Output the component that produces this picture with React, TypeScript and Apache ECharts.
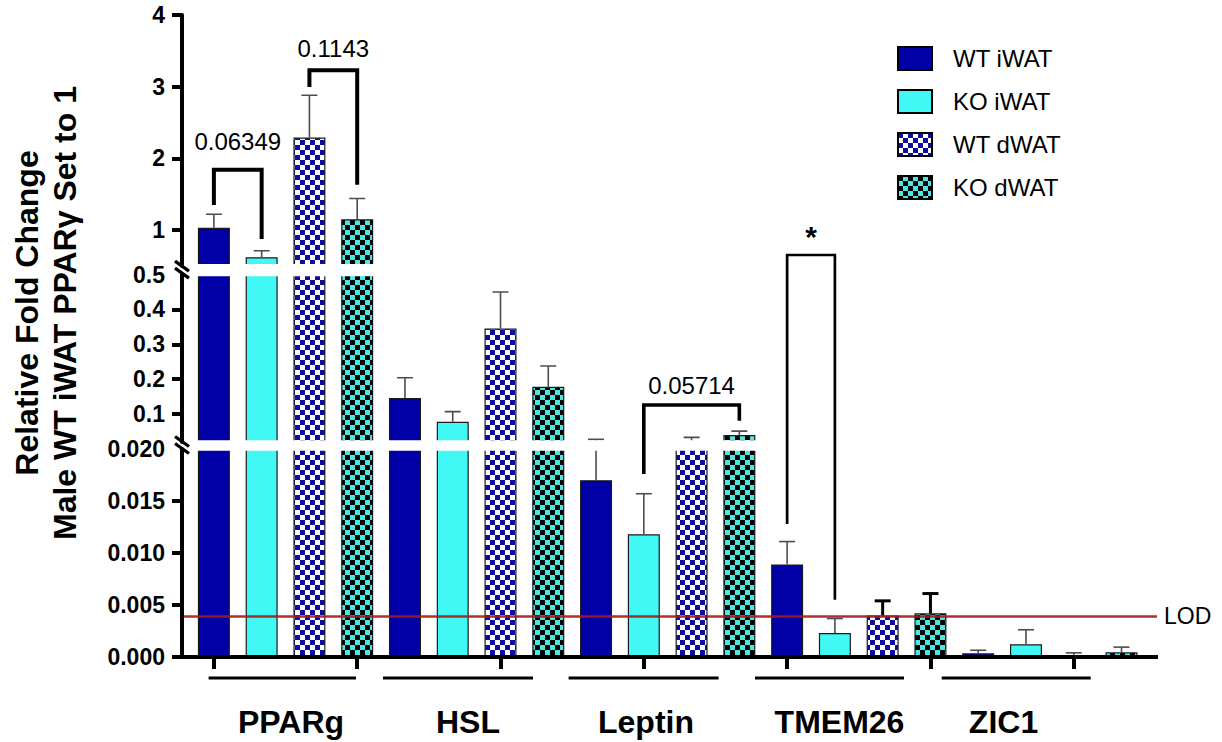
import React, { useEffect, useRef } from "react";
import * as echarts from "echarts";

// ---------------- data ----------------
const genes = ["PPARg", "HSL", "Leptin", "TMEM26", "ZIC1"];
const groups = ["WT iWAT", "KO iWAT", "WT dWAT", "KO dWAT"];

const wtIWAT = [1.03, 0.146, 0.017, 0.0089, 0.00035];
const koIWAT = [0.62, 0.078, 0.0118, 0.0023, 0.00122];
const wtDWAT = [2.29, 0.345, 0.0201, 0.004, 0.0002];
const koDWAT = [1.15, 0.178, 0.0398, 0.0042, 0.00045];

const wtIWATsd = [0.19, 0.058, 0.0105, 0.0022, 0.0003];
const koIWATsd = [0.09, 0.029, 0.0039, 0.0014, 0.0014];
const wtDWATsd = [0.59, 0.105, 0.0131, 0.0014, 0.0002];
const koDWATsd = [0.29, 0.06, 0.0114, 0.0019, 0.0005];

const heavyErrors = ["TMEM26|WT dWAT", "TMEM26|KO dWAT"];

const LOD = 0.0039;

// broken y axis: three segments (top, middle, bottom)
const segMin = [0.5, 0.02, 0];
const segMax = [4, 0.5, 0.02];
const segTicks = [
  [1, 2, 3, 4],
  [0.1, 0.2, 0.3, 0.4],
  [0, 0.005, 0.01, 0.015],
];
const segLabels = [
  [1, 2, 3, 4],
  [0.1, 0.2, 0.3, 0.4, 0.5],
  [0, 0.005, 0.01, 0.015, 0.02],
];
const segDecimals = [0, 1, 3];

// comparisons: gene index, group a, group b, bracket level, leg ends, label level
const comparisons = [
  { p: "0.06349", gene: 0, a: 0, b: 1, level: 1.84, endA: 1.35, endB: 0.874, labelAt: 2.23 },
  { p: "0.1143", gene: 0, a: 2, b: 3, level: 3.23, endA: 2.995, endB: 1.63, labelAt: 3.53 },
  { p: "0.05714", gene: 2, a: 1, b: 3, level: 0.126, endA: 0.0176, endB: 0.081, labelAt: 0.183 },
  { p: "*", gene: 3, a: 0, b: 1, level: 0.651, endA: 0.0128, endB: 0.0055, labelAt: 0.906 },
];

const yTitleLines = ["Relative Fold Change", "Male WT iWAT PPARγ Set to 1"];

// ---------------- layout / style ----------------
const FONT = "'Liberation Sans', Arial, Helvetica, sans-serif";
const GRID_LEFT = 190;
const GRID_W = 955.4;
const GRID_TOPS = [15, 274.5, 449];
const GRID_HEIGHTS = [250.8, 167.5, 208];
const AXIS_X = 182;
const XAXIS_RIGHT = 1158;
const GENE_LABEL_X = [291, 468, 646, 839.5, 1003.5];
const GENE_LABEL_Y = 722;
const UNDERLINES = [
  [208.6, 356],
  [383, 533],
  [568.6, 718.6],
  [755, 904],
  [941.7, 1090.7],
];
const UNDERLINE_Y = 678;
const BRACKET_WIDTHS = [4, 4, 3.6, 2.7];
const Y_TITLE_X = [27, 65];
const Y_TITLE_Y = 313;

function checker(bg: string, fg: string, size: number) {
  const c = document.createElement("canvas");
  c.width = size * 2;
  c.height = size * 2;
  const ctx = c.getContext("2d")!;
  ctx.fillStyle = bg;
  ctx.fillRect(0, 0, size * 2, size * 2);
  ctx.fillStyle = fg;
  ctx.fillRect(0, 0, size, size);
  ctx.fillRect(size, size, size, size);
  return { image: c, repeat: "repeat", imageWidth: size * 2, imageHeight: size * 2 } as any;
}

export default function App() {
  const ref = useRef<HTMLDivElement>(null);

  useEffect(() => {
    const chart = echarts.init(ref.current!, null, { renderer: "svg" });

    const values = [wtIWAT, koIWAT, wtDWAT, koDWAT];
    const sds = [wtIWATsd, koIWATsd, wtDWATsd, koDWATsd];
    const slots: string[] = [];
    genes.forEach((g) => groups.forEach((k) => slots.push(`${g}|${k}`)));
    const slotOf = (gene: number, grp: number) => gene * groups.length + grp;

    const fills = [
      "#0000a6",
      "#42f8f4",
      checker("#ffffff", "#0c0ca0", 5),
      checker("#4ae8e2", "#000000", 5),
    ];

    const grids: any[] = [];
    const xAxes: any[] = [];
    const yAxes: any[] = [];
    const series: any[] = [];

    for (let s = 0; s < 3; s++) {
      grids.push({ left: GRID_LEFT, width: GRID_W, top: GRID_TOPS[s], height: GRID_HEIGHTS[s] });
      xAxes.push({
        type: "category",
        gridIndex: s,
        data: slots,
        axisLine: { show: false },
        axisTick: {
          show: s === 2,
          alignWithLabel: true,
          length: 12,
          lineStyle: { color: "#000", width: 4 },
        },
        axisLabel: { show: false },
        splitLine: { show: false },
      });
      const dec = segDecimals[s];
      yAxes.push({
        type: "value",
        gridIndex: s,
        min: segMin[s],
        max: segMax[s],
        offset: GRID_LEFT - AXIS_X,
        axisLine: { show: true, lineStyle: { color: "#000", width: 4 } },
        axisTick: {
          show: true,
          length: 10,
          customValues: segTicks[s],
          lineStyle: { color: "#000", width: 4 },
        },
        axisLabel: {
          show: true,
          customValues: segLabels[s],
          formatter: (v: number) => v.toFixed(dec),
          fontSize: 23,
          fontWeight: "bold",
          fontFamily: FONT,
          color: "#000",
          margin: 17,
        },
        splitLine: { show: false },
      });

      groups.forEach((name, k) => {
        const data = slots.map(() => "-" as any);
        genes.forEach((_, gi) => {
          data[slotOf(gi, k)] = values[k][gi];
        });
        series.push({
          type: "bar",
          name,
          xAxisIndex: s,
          yAxisIndex: s,
          data,
          barWidth: 32,
          barGap: "-100%",
          clip: true,
          z: 2,
          itemStyle: { color: fills[k], borderColor: "#1a1a1a", borderWidth: 1.2 },
          emphasis: { disabled: true },
        });
      });

      const errData: any[] = [];
      groups.forEach((grpName, k) => {
        genes.forEach((g, gi) => {
          const heavy = heavyErrors.includes(`${g}|${grpName}`) ? 1 : 0;
          errData.push([slotOf(gi, k), values[k][gi], values[k][gi] + sds[k][gi], heavy]);
        });
      });
      series.push({
        type: "custom",
        xAxisIndex: s,
        yAxisIndex: s,
        clip: true,
        z: 3,
        silent: true,
        encode: { x: 0, y: [1, 2] },
        data: errData,
        renderItem: (params: any, api: any) => {
          const slot = api.value(0);
          const p0 = api.coord([slot, api.value(1)]);
          const p1 = api.coord([slot, api.value(2)]);
          const heavy = api.value(3) === 1;
          const style = { stroke: heavy ? "#000" : "#4d4d4d", lineWidth: heavy ? 3 : 1.6 };
          const hw = 8;
          return {
            type: "group",
            children: [
              { type: "line", shape: { x1: p0[0], y1: p0[1], x2: p1[0], y2: p1[1] }, style },
              { type: "line", shape: { x1: p1[0] - hw, y1: p1[1], x2: p1[0] + hw, y2: p1[1] }, style },
            ],
          };
        },
      });
    }

    const option: any = {
      animation: false,
      backgroundColor: "#fff",
      grid: grids,
      xAxis: xAxes,
      yAxis: yAxes,
      legend: {
        data: groups,
        orient: "vertical",
        left: 897,
        top: 46,
        padding: 0,
        itemWidth: 34,
        itemHeight: 23,
        itemGap: 18,
        icon: "rect",
        selectedMode: false,
        itemStyle: { borderColor: "#000", borderWidth: 2 },
        textStyle: { fontSize: 24, color: "#000", fontFamily: FONT, padding: [0, 0, 0, 16] },
      },
      series,
    };
    chart.setOption(option);

    // ---------- annotations computed through the chart's scales ----------
    const toPx = (slot: number, v: number) => {
      const gi = v >= segMin[0] ? 0 : v >= segMin[1] ? 1 : 2;
      return chart.convertToPixel({ gridIndex: gi }, [slot, v]) as number[];
    };
    const yOf = (gi: number, v: number) =>
      (chart.convertToPixel({ gridIndex: gi }, [0, v]) as number[])[1];

    const graphics: any[] = [];
    const txt = (x: number, y: number, text: string, size: number, weight: string, extra: any = {}) => ({
      type: "text",
      x,
      y,
      z: 120,
      ...extra,
      style: {
        text,
        fill: "#000",
        fontSize: size,
        fontWeight: weight,
        fontFamily: FONT,
        align: "center",
        verticalAlign: "middle",
        textAlign: "center",
        textVerticalAlign: "middle",
      },
    });

    // gaps of the broken axis
    const gapTop1 = yOf(0, segMin[0]);
    const gapBot1 = yOf(1, segMax[1]);
    const gapTop2 = yOf(1, segMin[1]);
    const gapBot2 = yOf(2, segMax[2]);
    [[gapTop1, gapBot1], [gapTop2, gapBot2]].forEach(([a, b]) => {
      graphics.push({
        type: "rect",
        z: 90,
        shape: { x: AXIS_X + 4, y: a - 1.8, width: XAXIS_RIGHT - AXIS_X, height: b - a + 3.6 },
        style: { fill: "#fff" },
      });
      const yc = (a + b) / 2;
      graphics.push({
        type: "line",
        z: 110,
        shape: { x1: AXIS_X - 7, y1: yc - 9, x2: AXIS_X + 7, y2: yc + 1 },
        style: { stroke: "#000", lineWidth: 3.2 },
      });
      graphics.push({
        type: "line",
        z: 110,
        shape: { x1: AXIS_X - 7, y1: yc - 2, x2: AXIS_X + 7, y2: yc + 8 },
        style: { stroke: "#000", lineWidth: 3.2 },
      });
    });

    // x axis line
    const y0 = yOf(2, 0);
    graphics.push({
      type: "line",
      z: 110,
      shape: { x1: AXIS_X - 2, y1: y0, x2: XAXIS_RIGHT, y2: y0 },
      style: { stroke: "#000", lineWidth: 4 },
    });

    // LOD line
    const yL = yOf(2, LOD);
    graphics.push({
      type: "line",
      z: 95,
      shape: { x1: AXIS_X + 2, y1: yL, x2: XAXIS_RIGHT - 1, y2: yL },
      style: { stroke: "#a81818", lineWidth: 2.4, opacity: 0.9 },
    });
    graphics.push({
      type: "text",
      x: XAXIS_RIGHT + 6,
      y: yL,
      z: 120,
      style: {
        text: "LOD",
        fill: "#000",
        fontSize: 23,
        fontFamily: FONT,
        align: "left",
        verticalAlign: "middle",
        textAlign: "left",
        textVerticalAlign: "middle",
      },
    });

    // gene underlines and labels
    genes.forEach((g, i) => {
      graphics.push({
        type: "line",
        z: 110,
        shape: { x1: UNDERLINES[i][0], y1: UNDERLINE_Y, x2: UNDERLINES[i][1], y2: UNDERLINE_Y },
        style: { stroke: "#000", lineWidth: 3 },
      });
      graphics.push(txt(GENE_LABEL_X[i], GENE_LABEL_Y, g, 32, "bold"));
    });

    // y axis title
    yTitleLines.forEach((line, i) => {
      graphics.push(txt(Y_TITLE_X[i], Y_TITLE_Y, line, 32, "bold", { rotation: Math.PI / 2 }));
    });

    // significance brackets
    comparisons.forEach((c, i) => {
      const sa = slotOf(c.gene, c.a);
      const sb = slotOf(c.gene, c.b);
      const pA = toPx(sa, c.endA);
      const pB = toPx(sb, c.endB);
      const hA = toPx(sa, c.level);
      const hB = toPx(sb, c.level);
      graphics.push({
        type: "polyline",
        z: 115,
        shape: { points: [[pA[0], pA[1]], [hA[0], hA[1]], [hB[0], hB[1]], [pB[0], pB[1]]] },
        style: { stroke: "#000", lineWidth: BRACKET_WIDTHS[i], fill: null, lineJoin: "miter" },
      });
      const lab = toPx(sa, c.labelAt);
      const midX = (hA[0] + hB[0]) / 2;
      if (c.p === "*") graphics.push(txt(midX, lab[1], c.p, 30, "bold"));
      else graphics.push(txt(midX, lab[1], c.p, 24, "normal"));
    });

    chart.setOption({ graphic: graphics });

    return () => chart.dispose();
  }, []);

  return (
    <div
      ref={ref}
      style={{ position: "fixed", left: 0, top: 0, width: 1222, height: 742, background: "#fff" }}
    />
  );
}
